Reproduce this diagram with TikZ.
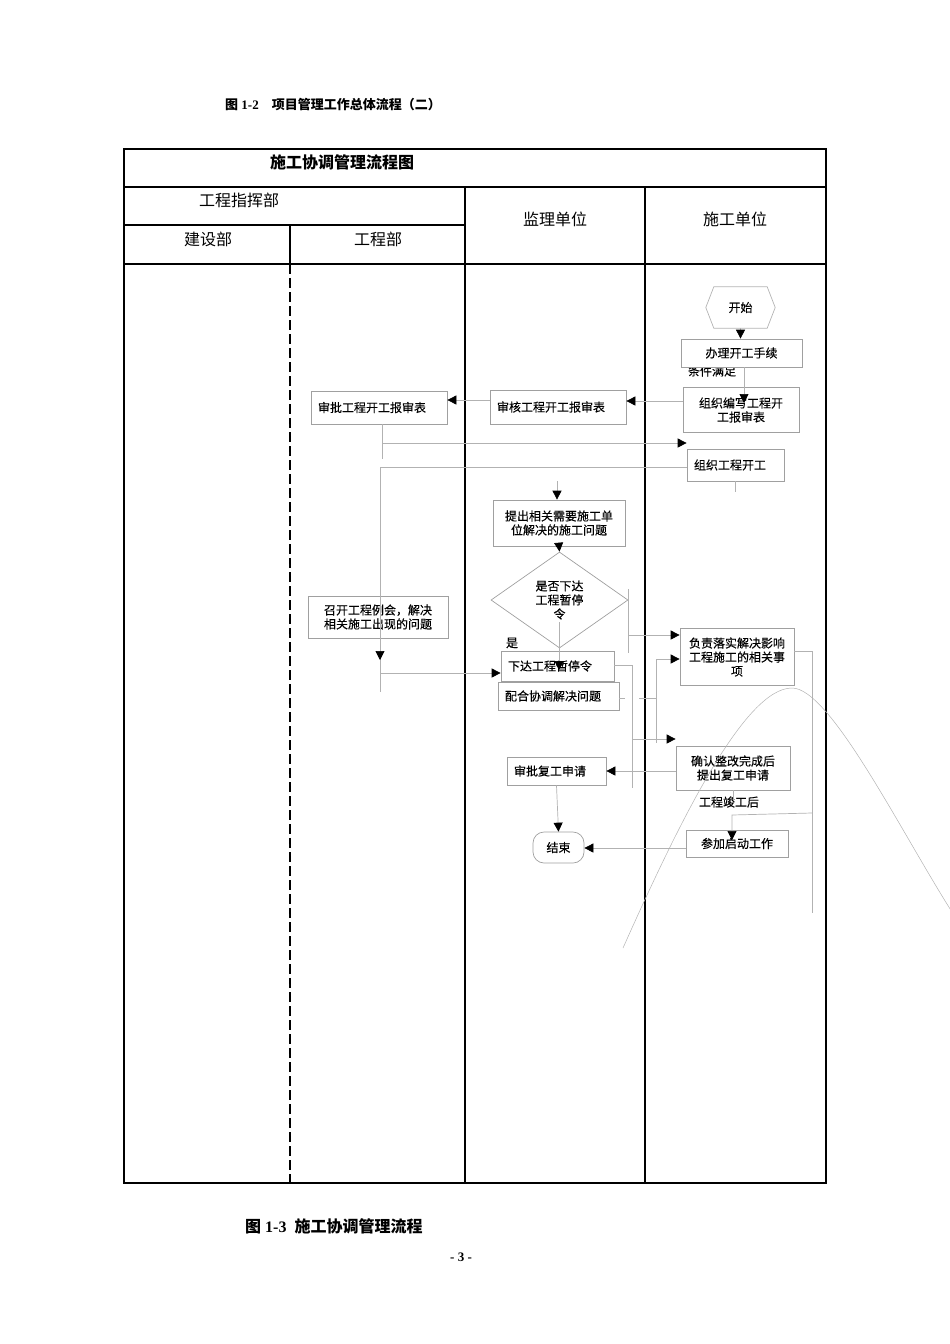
\documentclass[tikz,border=0pt]{standalone}
\usepackage{fontspec}
\setmainfont{Liberation Serif}
\newfontfamily\cjk{Noto Sans CJK SC}
\newfontfamily\cjkbox[FakeBold=0.3]{Noto Sans CJK SC}
\usetikzlibrary{arrows.meta,shapes.geometric}
\definecolor{boxgray}{RGB}{160,160,160}
\definecolor{linegray}{RGB}{178,178,178}
\begin{document}
\begin{tikzpicture}[x=1pt,y=-1pt,
  lane/.style={line width=2.2pt},
  box/.style={draw=boxgray, fill=white, line width=0.7pt, inner sep=0pt, align=center, font=\cjkbox\fontsize{12}{14}\selectfont},
  leftbox/.style={box, inner xsep=7pt, text width=#1, align=left},
  lbl/.style={inner sep=0pt, align=center, font=\cjkbox\fontsize{12}{14}\selectfont},
  head/.style={inner sep=0pt, font=\cjk\fontsize{16}{18}\selectfont},
  link/.style={draw=linegray, line width=0.7pt},
  arr/.style={link, -{Triangle[color=black,length=9pt,width=9pt]}}]
\useasboundingbox (0,0) rectangle (950,1344);

% lanes
\draw[lane] (124,149) rectangle (826,1183);
\draw[lane] (124,187) -- (826,187);
\draw[lane] (124,225) -- (465,225);
\draw[lane] (124,264) -- (826,264);
\draw[lane] (465,187) -- (465,1183);
\draw[lane] (645,187) -- (645,1183);
\draw[lane] (290,225) -- (290,264);
\draw[lane, dash pattern=on 10pt off 4pt] (290,264) -- (290,1183);

\node[head, font=\cjk\bfseries\fontsize{16}{18}\selectfont] (title) at (342,162) {施工协调管理流程图};
\node[head] (zhihui) at (239,200) {工程指挥部};
\node[head] (jianshe) at (208,239) {建设部};
\node[head] (gongcheng) at (378,239) {工程部};
\node[head] (jianli) at (555,219) {监理单位};
\node[head] (shigong) at (735,219) {施工单位};

% captions
\node[inner sep=0pt, anchor=west, font=\bfseries\fontsize{13}{15}\selectfont] (cap1) at (225,105) {{\cjk 图} 1-2\quad{\cjk 项目管理工作总体流程（二）}};
\node[inner sep=0pt, anchor=west, font=\bfseries\fontsize{16}{18}\selectfont] (cap2) at (245,1226) {{\cjk 图} 1-3\enspace{\cjk 施工协调管理流程}};
\node[inner sep=0pt, font=\bfseries\fontsize{13}{15}\selectfont] (page) at (461,1257) {- 3 -};

% steps
\node[lbl, minimum width=69pt, minimum height=41pt] (start) at (740.5,307.5) {开始};
\draw[draw=boxgray!80, line width=0.7pt] (start.west) -- ([xshift=8pt]start.north west) -- ([xshift=-8pt]start.north east) -- (start.east) -- ([xshift=-8pt]start.south east) -- ([xshift=8pt]start.south west) -- cycle;
\node[lbl] (tiaojian) at (712,371) {条件满足};
\node[box, minimum width=121pt, minimum height=28pt] (shouxu) at (741.5,353) {办理开工手续};
\node[box, minimum width=116pt, minimum height=45pt] (bianxie) at (741,410) {组织编写工程开\\工报审表};
\node[leftbox=122pt, minimum width=136pt, minimum height=34pt] (shenhe) at (558,407) {审核工程开工报审表};
\node[leftbox=122pt, minimum width=136pt, minimum height=33pt] (shenpi) at (379,407.5) {审批工程开工报审表};
\node[leftbox=83pt, minimum width=97pt, minimum height=32pt] (kaigong) at (735.5,465) {组织工程开工};
\node[box, minimum width=132pt, minimum height=46pt] (tichu) at (559,523) {提出相关需要施工单\\位解决的施工问题};
\node[lbl, diamond, draw=boxgray, fill=white, line width=0.7pt, minimum width=137pt, minimum height=96pt] (panduan) at (559.5,600) {是否下达\\工程暂停\\令};
\node[lbl] (shi) at (512,643) {是};
\node[leftbox=99pt, minimum width=113pt, minimum height=30pt] (xiada) at (557.5,666) {下达工程暂停令};
\node[leftbox=107pt, minimum width=121pt, minimum height=28pt] (peihe) at (558.5,696) {配合协调解决问题};
\node[box, minimum width=140pt, minimum height=42pt] (zhaokai) at (378,617) {召开工程例会，解决\\相关施工出现的问题};
\node[box, minimum width=114pt, minimum height=57pt] (fuze) at (737,657) {负责落实解决影响\\工程施工的相关事\\项};
\node[box, minimum width=114pt, minimum height=44pt] (queren) at (733,768) {确认整改完成后\\提出复工申请};
\node[leftbox=85pt, minimum width=99pt, minimum height=28pt] (fugong) at (556.5,771) {审批复工申请};
\node[lbl] (jungong) at (729,802) {工程竣工后};
\node[box, minimum width=102pt, minimum height=27pt] (canjia) at (737,843.5) {参加启动工作};
\node[box, rounded corners=11pt, minimum width=51pt, minimum height=31pt] (jieshu) at (558.5,847.5) {结束};

% connectors
\draw[arr] (start.south) -- (start.south |- shouxu.north);
\coordinate (p2) at (744,403);
\draw[arr] (shouxu.south -| p2) -- (p2);
\coordinate (p3) at (683,401);
\draw[arr] (p3) -- (p3 -| shenhe.east);
\coordinate (p4) at (490,400);
\draw[arr] (p4) -- (p4 -| shenpi.east);
\coordinate (p5) at (382,459);
\draw[link] (shenpi.south -| p5) -- (p5);
\coordinate (p6) at (382,443);
\draw[arr] (p6) -- (p6 -| kaigong.west);
\coordinate (p7) at (380,467);
\coordinate (p8) at (380,692);
\draw[link] (kaigong.west |- p7) -- (p7) -- (p8);
\coordinate (p9) at (380,660);
\draw[arr] (p7) -- (p9);
\coordinate (p10) at (380,673);
\draw[arr] (p10) -- (p10 -| xiada.west);
\coordinate (p11) at (735,492);
\draw[link] (kaigong.south -| p11) -- (p11);
\coordinate (p12) at (557,481);
\draw[arr] (p12) -- (p12 |- tichu.north);
\draw[arr] (tichu.south) -- (panduan.north);
\coordinate (p13a) at (559,622);
\coordinate (p13) at (559,670);
\draw[arr] (p13a) -- (p13);
\coordinate (p14a) at (628,589);
\coordinate (p14b) at (628,653);
\draw[link] (p14a) -- (p14b);
\coordinate (p14) at (628,635);
\draw[arr] (p14) -- (p14 -| fuze.west);
\coordinate (p15) at (632,665);
\coordinate (p15b) at (632,788);
\draw[link] (xiada.east |- p15) -- (p15) -- (p15b);
\coordinate (p16) at (632,739);
\draw[arr] (p16) -- (p16 -| queren.west);
\coordinate (p17) at (625,698);
\draw[link] (peihe.east |- p17) -- (p17);
\coordinate (p18) at (639,698);
\coordinate (p19) at (656,698);
\draw[link] (p18) -- (p19);
\coordinate (p20) at (656,659);
\coordinate (p21) at (656,743);
\draw[link] (p20) -- (p21);
\draw[arr] (p20) -- (p20 -| fuze.west);
\coordinate (p22) at (676,771);
\draw[arr] (p22) -- (p22 -| fugong.east);
\coordinate (p23) at (733,800);
\draw[link] (queren.south) -- (p23);
\coordinate (p24) at (812,651);
\coordinate (p25) at (812,913);
\draw[link] (fuze.east |- p24) -- (p24) -- (p25);
\coordinate (p26) at (812,813);
\coordinate (p27) at (732,815);
\coordinate (p28) at (732,840);
\draw[arr] (p26) -- (p27) -- (p28);
\coordinate (p29) at (686,848);
\draw[arr] (p29) -- (p29 -| jieshu.east);
\draw[arr] (fugong.south) -- (jieshu.north);

% stray curve
\draw[draw=boxgray!80, line width=0.5pt] (623,948) .. controls (680,820) and (745,688) .. (792,688) .. controls (830,688) and (900,830) .. (952,912);

\end{tikzpicture}
\end{document}
